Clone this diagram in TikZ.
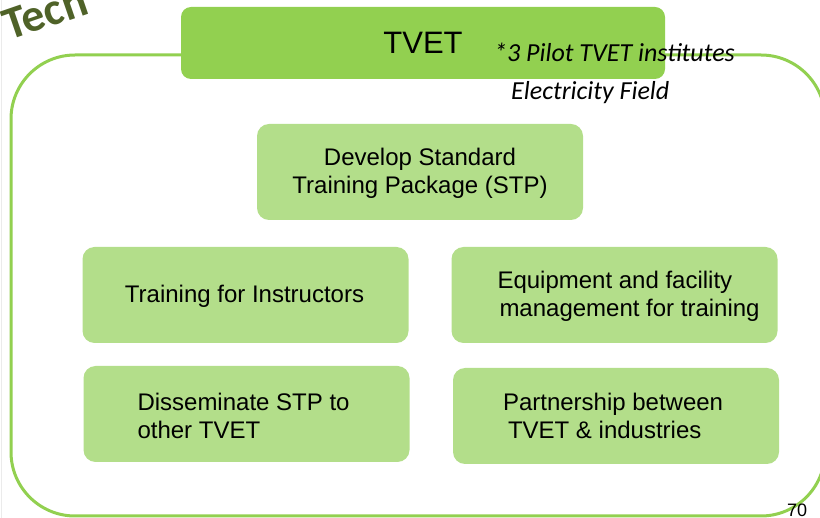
\documentclass[tikz,border=0pt]{standalone}
\usepackage{fontspec}
\setmainfont{Liberation Sans}
\newfontfamily\calibri{Carlito}
\definecolor{tvetgreen}{HTML}{92D050}
\definecolor{taskgreen}{HTML}{B3DE8A}
\definecolor{techolive}{HTML}{4F6228}

\begin{document}
\begin{tikzpicture}[x=1pt,y=-1pt,
    task/.style={fill=taskgreen,rounded corners=12pt,minimum width=326pt,minimum height=96pt,inner sep=0pt},
    tasktext/.style={inner sep=0pt,font=\fontsize{24}{28}\selectfont},
    pilot/.style={inner sep=0pt,anchor=base west,font=\calibri\itshape\fontsize{26}{30}\selectfont}]
      \useasboundingbox (0,0) rectangle (820,518);
      \clip (0,0) rectangle (820,518);
      \draw[black!8] (1,0) -- (1,518);
      \node[rotate=19,anchor=base west,inner sep=0pt,text=techolive,font=\calibri\bfseries\fontsize{46}{48}\selectfont] (tech) at (9,41) {Tech};
      % frame round the whole programme
      \draw[tvetgreen,line width=3pt,rounded corners=64pt] (11,55) rectangle (825,516);
      \node[fill=tvetgreen,rounded corners=10pt,minimum width=484pt,minimum height=72pt,font=\fontsize{31}{36}\selectfont] (tvet) at (423,43) {TVET};
      \node[pilot] (pilot) at (494,62) {*3 Pilot TVET institutes};
      \node[pilot] (field) at (511,100) {Electricity Field};
      % the five tasks
      \node[task] (stp) at (420,172) {};
      \node[tasktext,align=center] (stptext) at (420,173) {Develop Standard\\Training Package (STP)};
      \node[task] (instr) at (245.5,295) {};
      \node[tasktext] (instrtext) at (244.5,296) {Training for Instructors};
      \node[task] (equip) at (614.5,295) {};
      \node[tasktext,align=left,anchor=west] (equiptext) at ([xshift=46pt,yshift=-1pt]equip.west) {Equipment and facility\\\hspace*{2pt}management for training};
      \node[task] (dissem) at (246.5,414) {};
      \node[tasktext,align=left,anchor=west] (dissemtext) at ([xshift=54pt,yshift=-2pt]dissem.west) {Disseminate STP to\\other TVET};
      \node[task] (partner) at (616,416) {};
      \node[tasktext,align=left,anchor=west] (partnertext) at ([xshift=50pt]partner.west) {Partnership between\\\hspace*{5pt}TVET \& industries};
      \node[inner sep=0pt,anchor=base west,font=\fontsize{18}{20}\selectfont] (pagenum) at (787,517) {70};
\end{tikzpicture}
\end{document}
